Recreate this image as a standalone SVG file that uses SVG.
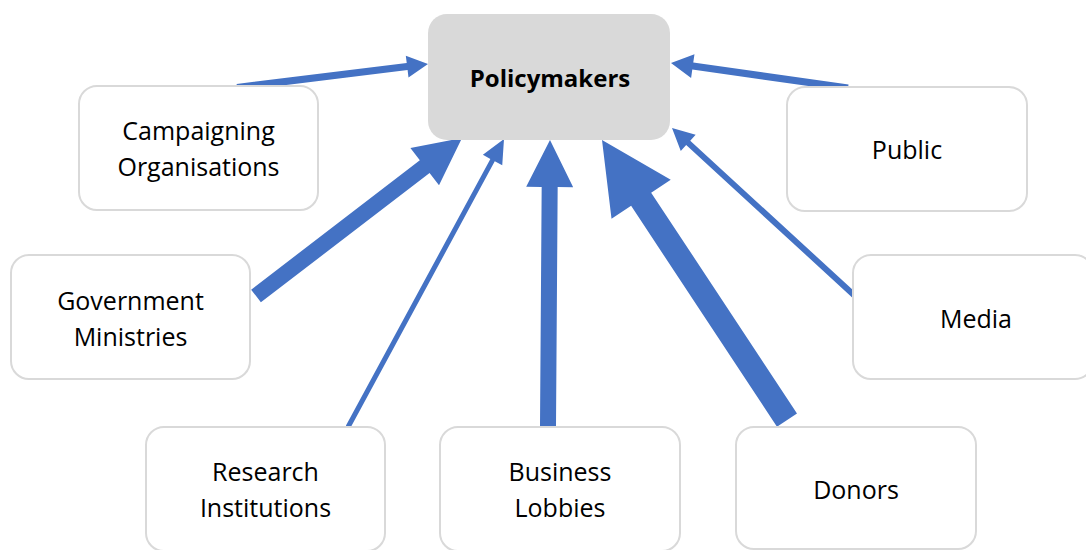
<svg xmlns="http://www.w3.org/2000/svg" width="1086" height="550" viewBox="0 0 1086 550">
  <style>
    .box { fill: #ffffff; stroke: #d9d9d9; stroke-width: 2; }
    .hub { fill: #d9d9d9; stroke: none; }
    .lbl { font-family: "Open Sans", "Liberation Sans", sans-serif; font-size: 25px; fill: #000000; text-anchor: middle; }
    .hubl { font-family: "Open Sans", "Liberation Sans", sans-serif; font-size: 24px; font-weight: bold; fill: #000000; text-anchor: middle; }
    .arrow { fill: #4472c4; stroke: none; }
  </style>

  <!-- Block arrows: each is drawn pointing along +x with its tip at the origin, then placed -->
  <g id="connectors">
    <!-- Campaigning Organisations -> Policymakers -->
    <polygon class="arrow" transform="translate(428,64) rotate(-7.01)" points="0,0 -21,-11 -21,-3.5 -192.4,-3.5 -192.4,3.5 -21,3.5 -21,11"/>
    <!-- Public -> Policymakers -->
    <polygon class="arrow" transform="translate(671,63) rotate(-171.96)" points="0,0 -22,-12 -22,-3.5 -178.8,-3.5 -178.8,3.5 -22,3.5 -22,12"/>
    <!-- Government Ministries -> Policymakers -->
    <polygon class="arrow" transform="translate(462,138) rotate(-37.49)" points="0,0 -47,-23.5 -47,-8 -259.6,-8 -259.6,8 -47,8 -47,23.5"/>
    <!-- Research Institutions -> Policymakers -->
    <polygon class="arrow" transform="translate(504,139) rotate(-61.56)" points="0,0 -24,-11 -24,-2.5 -327.5,-2.5 -327.5,2.5 -24,2.5 -24,11"/>
    <!-- Business Lobbies -> Policymakers -->
    <polygon class="arrow" transform="translate(550,140) rotate(-89.6)" points="0,0 -47,-23.5 -47,-8 -287,-8 -287,8 -47,8 -47,23.5"/>
    <!-- Donors -> Policymakers -->
    <polygon class="arrow" transform="translate(602,140) rotate(-123.45)" points="0,0 -71,-35.5 -71,-12 -335.6,-12 -335.6,12 -71,12 -71,35.5"/>
    <!-- Media -> Policymakers -->
    <polygon class="arrow" transform="translate(672,128) rotate(-137.45)" points="0,0 -22,-11 -22,-3 -248.4,-3 -248.4,3 -22,3 -22,11"/>
  </g>

  <g id="policymakers">
    <rect class="hub" x="428" y="14" width="242" height="126" rx="19"/>
    <text class="hubl" x="550" y="87">Policymakers</text>
  </g>

  <g id="campaigning-organisations">
    <rect class="box" x="79" y="86" width="239" height="124" rx="18"/>
    <text class="lbl" x="198.5" y="140">Campaigning</text>
    <text class="lbl" x="198.5" y="176">Organisations</text>
  </g>

  <g id="public">
    <rect class="box" x="787" y="87" width="240" height="124" rx="18"/>
    <text class="lbl" x="907" y="159">Public</text>
  </g>

  <g id="government-ministries">
    <rect class="box" x="11" y="255" width="239" height="124" rx="18"/>
    <text class="lbl" x="130.5" y="310">Government</text>
    <text class="lbl" x="130.5" y="346">Ministries</text>
  </g>

  <g id="media">
    <rect class="box" x="853" y="255" width="240" height="124" rx="18"/>
    <text class="lbl" x="976" y="328">Media</text>
  </g>

  <g id="research-institutions">
    <rect class="box" x="146" y="427" width="239" height="124" rx="18"/>
    <text class="lbl" x="265.5" y="481">Research</text>
    <text class="lbl" x="265.5" y="517">Institutions</text>
  </g>

  <g id="business-lobbies">
    <rect class="box" x="440" y="427" width="240" height="124" rx="18"/>
    <text class="lbl" x="560" y="481">Business</text>
    <text class="lbl" x="560" y="517">Lobbies</text>
  </g>

  <g id="donors">
    <rect class="box" x="736" y="427" width="240" height="122" rx="18"/>
    <text class="lbl" x="856" y="499">Donors</text>
  </g>
</svg>
